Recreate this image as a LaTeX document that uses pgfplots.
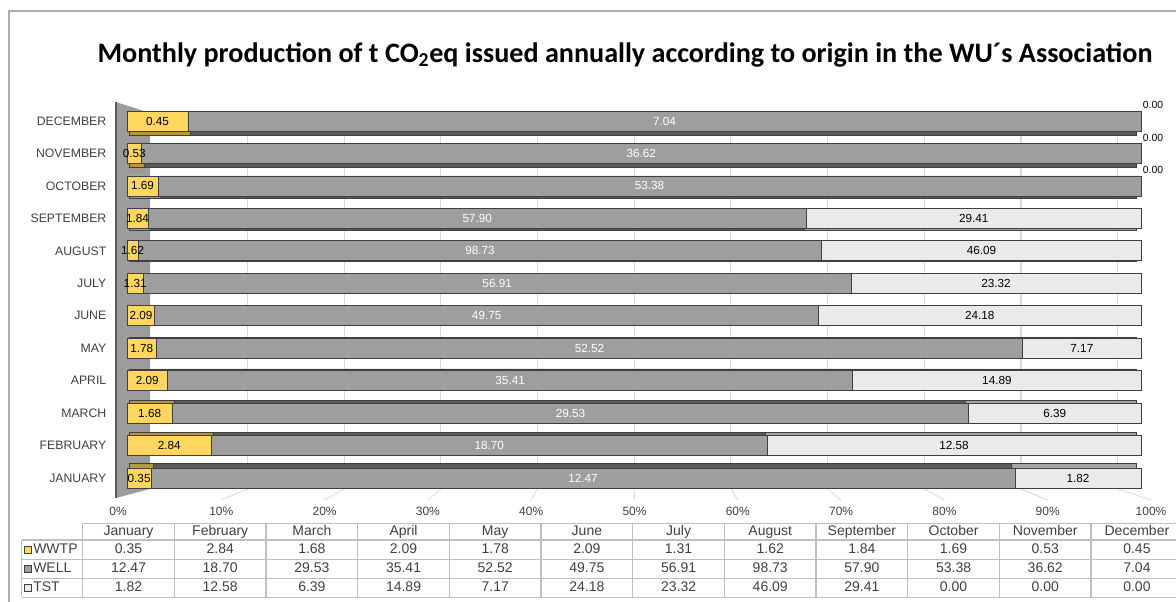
\documentclass[border=0pt]{standalone}
\usepackage{pgfplots}
\pgfplotsset{compat=1.18}
\usepackage{pgfplotstable}
\usepackage{fontspec}
\setmainfont{Liberation Sans}
\newfontfamily\titlefont{Carlito}

\definecolor{wwtpC}{HTML}{FFD75E}
\definecolor{wellC}{HTML}{9E9E9E}
\definecolor{tstC}{HTML}{EAEAEA}
\definecolor{wwtpD}{HTML}{B8963A}
\definecolor{wellD}{HTML}{5A5A5A}
\definecolor{tstD}{HTML}{A4A4A4}
\definecolor{edgeC}{HTML}{3F3F3F}
\definecolor{gridC}{HTML}{D9D9D9}
\definecolor{wallC}{HTML}{9C9C9C}
\definecolor{wallEdge}{HTML}{5A5A5A}
\definecolor{frameC}{HTML}{ADADAD}
\definecolor{tblLine}{HTML}{BFBFBF}
\definecolor{labelC}{HTML}{404040}

% t CO2eq per month and origin
\pgfplotstableread{
idx month wwtp well tst
1  January   0.35 12.47  1.82
2  February  2.84 18.70 12.58
3  March     1.68 29.53  6.39
4  April     2.09 35.41 14.89
5  May       1.78 52.52  7.17
6  June      2.09 49.75 24.18
7  July      1.31 56.91 23.32
8  August    1.62 98.73 46.09
9  September 1.84 57.90 29.41
10 October   1.69 53.38  0.00
11 November  0.53 36.62  0.00
12 December  0.45  7.04  0.00
}\emissions

\newcommand\tot{(\thisrow{wwtp}+\thisrow{well}+\thisrow{tst})}

\pgfplotsset{
  chartbase/.style={scale only axis, anchor=south west, xmin=0, xmax=100,
    ymin=0.5, ymax=12.5, clip=false},
  barlabel/.style={draw=none, mark=none, nodes near coords,
    point meta=explicit symbolic,
    every node near coord/.append style={font=\fontsize{8.8}{10}\selectfont,
      text=#1, anchor=center, inner sep=0pt}},
}

\begin{document}
\begin{tikzpicture}
\useasboundingbox (0,0) rectangle (882pt,-451.5pt);
\clip (0,0) rectangle (882pt,-451.5pt);

\begin{scope}[x=0.75pt,y=-0.75pt]
  \draw[frameC, line width=1.5pt] (8.7,602) -- (8.7,10.7) -- (1176,10.7);
  \node[font=\titlefont\bfseries\fontsize{21.1}{24}\selectfont] at (625,55)
    {Monthly production of t CO\textsubscript{2}eq issued annually according to origin in the WU´s Association};
  % back wall grid
  \foreach \k in {1,...,10}
    \draw[gridC, line width=0.8pt] ({150.7+96.7*\k},112) -- ({150.7+96.7*\k},489);
  % floor guides
  \foreach \k in {1,...,10}
    \draw[gridC, line width=0.6pt] ({150.7+96.7*\k},489) -- ({118+103.3*\k},500);
  % side wall
  \fill[wallC] (116,102) -- (150,113) -- (150,489) -- (116,498) -- cycle;
  \draw[wallEdge, line width=1.2pt] (116,102) -- (116,498);
\end{scope}

% depth faces of the bars
\begin{axis}[chartbase, hide axis, at={(97.275pt,-366.975pt)},
  width=754.7pt, height=284.7pt, xbar stacked, bar width=14.6pt]
  \addplot[fill=wwtpD, draw=edgeC, line width=0.5pt]
    table[x expr={100*\thisrow{wwtp}/\tot}, y=idx]{\emissions};
  \addplot[fill=wellD, draw=edgeC, line width=0.5pt]
    table[x expr={100*\thisrow{well}/\tot}, y=idx]{\emissions};
  \addplot[fill=tstD, draw=edgeC, line width=0.5pt]
    table[x expr={100*\thisrow{tst}/\tot}, y=idx]{\emissions};
\end{axis}

% front faces of the bars
\begin{axis}[chartbase, at={(95.25pt,-370.65pt)},
  width=760.5pt, height=292.05pt, xbar stacked, bar width=15pt,
  axis line style={draw=none}, major tick length=0pt,
  xtick=\empty, ytick={1,...,12},
  yticklabels={JANUARY,FEBRUARY,MARCH,APRIL,MAY,JUNE,JULY,AUGUST,SEPTEMBER,OCTOBER,NOVEMBER,DECEMBER},
  yticklabel style={font=\fontsize{9.2}{11}\selectfont, text=labelC, xshift=-12pt}]
  \addplot[fill=wwtpC, draw=edgeC, line width=0.6pt]
    table[x expr={100*\thisrow{wwtp}/\tot}, y=idx]{\emissions};
  \addplot[fill=wellC, draw=edgeC, line width=0.6pt]
    table[x expr={100*\thisrow{well}/\tot}, y=idx]{\emissions};
  \addplot[fill=tstC, draw=edgeC, line width=0.6pt]
    table[x expr={100*\thisrow{tst}/\tot}, y=idx]{\emissions};
\end{axis}

% value labels
\begin{axis}[chartbase, hide axis, at={(95.25pt,-370.65pt)},
  width=760.5pt, height=292.05pt]
  \addplot[barlabel=black]
    table[x expr={100*(\thisrow{wwtp}/2)/\tot}, y=idx, meta=wwtp]{\emissions};
  \addplot[barlabel=white]
    table[x expr={100*(\thisrow{wwtp}+\thisrow{well}/2)/\tot}, y=idx, meta=well]{\emissions};
  \addplot[barlabel=black, restrict expr to domain={\thisrow{tst}}{0.005:1000}]
    table[x expr={100*(\thisrow{wwtp}+\thisrow{well}+\thisrow{tst}/2)/\tot}, y=idx, meta=tst]{\emissions};
  \addplot[barlabel=black, restrict expr to domain={\thisrow{tst}}{-1:0.005},
    every node near coord/.append style={font=\fontsize{7.8}{9}\selectfont, xshift=9pt, yshift=12pt}]
    table[x expr={100*(\thisrow{wwtp}+\thisrow{well}+\thisrow{tst}/2)/\tot}, y=idx, meta=tst]{\emissions};
\end{axis}

% percentage scale along the floor edge
\begin{axis}[scale only axis, anchor=south west, at={(88.5pt,-383.25pt)},
  width=774.75pt, height=1pt, xmin=0, xmax=100, ymin=0, ymax=1,
  axis line style={draw=none}, major tick length=0pt, ytick=\empty,
  xtick={0,10,...,100},
  xticklabels={0\%,10\%,20\%,30\%,40\%,50\%,60\%,70\%,80\%,90\%,100\%},
  xticklabel style={anchor=center, font=\fontsize{9}{10}\selectfont, text=labelC}]
\end{axis}

% data table
\begin{scope}[x=0.75pt,y=-0.75pt, tbl/.style={font=\fontsize{10.5}{12}\selectfont,
    text=labelC, inner sep=0pt, text height=7.6pt, text depth=2.2pt}]
  \draw[tblLine, line width=1pt] (82.7,523.3) -- (1182.7,523.3);
  \foreach \yy in {540,559.3,578.3,597.3}
    \draw[tblLine, line width=1pt] (21.7,\yy) -- (1182.7,\yy);
  \draw[tblLine, line width=1pt] (21.7,540) -- (21.7,597.3);
  \foreach \k in {0,...,12}
    \draw[tblLine, line width=1pt] ({82.7+91.67*\k},523.3) -- ({82.7+91.67*\k},597.3);
  \foreach \m/\a/\b/\c [count=\i] in {January/0.35/12.47/1.82, February/2.84/18.70/12.58,
      March/1.68/29.53/6.39, April/2.09/35.41/14.89, May/1.78/52.52/7.17,
      June/2.09/49.75/24.18, July/1.31/56.91/23.32, August/1.62/98.73/46.09,
      September/1.84/57.90/29.41, October/1.69/53.38/0.00, November/0.53/36.62/0.00,
      December/0.45/7.04/0.00} {
    \node[tbl] at ({82.7+91.67*(\i-0.5)},531.9) {\m};
    \node[tbl] at ({82.7+91.67*(\i-0.5)},549.9) {\a};
    \node[tbl] at ({82.7+91.67*(\i-0.5)},569.0) {\b};
    \node[tbl] at ({82.7+91.67*(\i-0.5)},588.0) {\c};
  }
  \foreach \nm/\col/\yy in {WWTP/wwtpC/549.9, WELL/wellC/569.0, TST/tstC/588.0} {
    \filldraw[fill=\col, draw=labelC, line width=0.6pt] (24.5,\yy-3.5) rectangle (31.5,\yy+3.5);
    \node[tbl, anchor=west] at (33,\yy) {\nm};
  }
\end{scope}
\end{tikzpicture}
\end{document}
